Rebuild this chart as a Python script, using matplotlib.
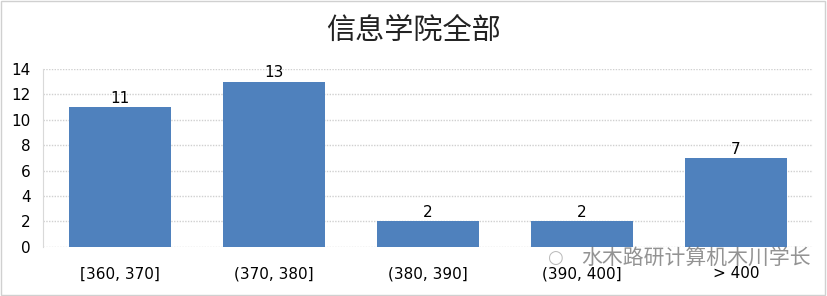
import matplotlib.pyplot as plt
from matplotlib.patches import Rectangle

plt.rcParams['font.family'] = ['DejaVu Sans', 'Noto Sans CJK SC']

categories = ['[360, 370]', '(370, 380]', '(380, 390]', '(390, 400]', '> 400']
counts = [11, 13, 2, 2, 7]
yticks = [0, 2, 4, 6, 8, 10, 12, 14]
title = '信息学院全部'
watermark = '水木路研计算机木川学长'

fig = plt.figure(figsize=(8.27, 2.96), dpi=100)
ax = fig.add_axes([0.052, 0.166, 0.931, 0.601])

x = range(len(categories))
bars = ax.bar(x, counts, width=0.665, color='#4f81bd', zorder=3)
for b, v in zip(bars, counts):
    ax.text(b.get_x() + b.get_width() / 2, v + 0.1, str(v),
            ha='center', va='bottom', fontsize=11, color='#000000', zorder=4)

ax.set_xlim(-0.5, len(categories) - 0.5)
ax.set_ylim(0, 14)
ax.set_yticks(yticks)
ax.set_xticks(list(x))
ax.set_xticklabels(categories, fontsize=11)
ax.tick_params(axis='both', length=0, labelsize=11, colors='#000000')
ax.tick_params(axis='x', pad=14)
ax.tick_params(axis='y', pad=9)
ax.grid(axis='y', color='#d0d0d0', linestyle=(0, (1, 1)), linewidth=1, zorder=0)
for s in ['top', 'right', 'bottom']:
    ax.spines[s].set_visible(False)
ax.spines['left'].set_color('#d9d9d9')

fig.text(0.5, 0.895, title, ha='center', va='center', fontsize=21,
         family=['Noto Sans CJK SC'], color='#222222', fontweight='light')

fig.text(0.671, 0.128, '\u25cb', ha='center', va='center', fontsize=13,
         color='#aaaaaa', alpha=0.8, zorder=10)
fig.text(0.703, 0.128, watermark, ha='left', va='center', fontsize=15,
         family=['Noto Sans CJK SC'], color='#666666', alpha=0.7, zorder=10)

fig.patches.append(Rectangle((0.001, 0.003), 0.997, 0.994, transform=fig.transFigure,
                             fill=False, edgecolor='#d0d0d0', linewidth=1))

fig.savefig('out.png', dpi=100)
